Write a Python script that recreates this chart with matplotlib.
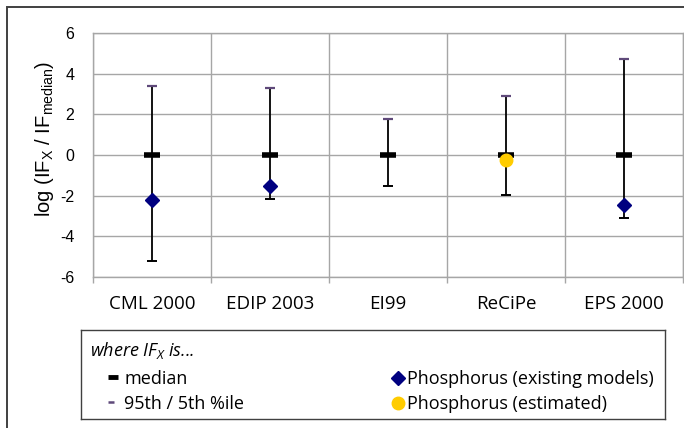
import numpy as np
import matplotlib
matplotlib.use("Agg")
import matplotlib.pyplot as plt
from matplotlib.patches import Rectangle

plt.rcParams['mathtext.default'] = 'regular'

# ---- data ----
methods = ["CML 2000", "EDIP 2003", "EI99", "ReCiPe", "EPS 2000"]
pct95 = [3.38, 3.28, 1.77, 2.88, 4.72]
pct5 = [-5.22, -2.18, -1.54, -1.98, -3.11]
median = [0, 0, 0, 0, 0]
phos_existing = [-2.23, -1.52, np.nan, np.nan, -2.44]
phos_estimated = [np.nan, np.nan, np.nan, -0.25, np.nan]
yticks = [-6, -4, -2, 0, 2, 4, 6]

W, H = 684, 428
fig = plt.figure(figsize=(W / 100, H / 100), dpi=100)

def fx(px):
    return px / W

def fy(py):
    return 1 - py / H

ax = fig.add_axes([fx(93), fy(277), fx(683) - fx(93), fy(33) - fy(277)])
x = np.arange(len(methods)) + 0.5
grid_c = '#a6a6a6'

ax.set_xlim(0, len(methods))
ax.set_ylim(-6, 6)
ax.set_yticks(yticks)
ax.set_yticklabels([str(v) for v in yticks], family='Liberation Sans', fontsize=11.5)
ax.set_xticks(x)
ax.set_xticklabels(methods, family='Open Sans', fontsize=13.5)
ax.set_xticks(np.arange(len(methods) + 1), minor=True)
ax.tick_params(axis='y', length=0, pad=13.5)
ax.tick_params(axis='x', which='major', length=0, pad=13)
ax.tick_params(axis='x', which='minor', length=4.5, width=1, color=grid_c, direction='out')
ax.yaxis.grid(True, color=grid_c, lw=1)
ax.xaxis.grid(True, which='minor', color=grid_c, lw=1)
ax.set_axisbelow(True)
for s in ax.spines.values():
    s.set_color(grid_c)
    s.set_linewidth(1)

# whiskers
ax.vlines(x, pct5, pct95, color='black', lw=1.3, zorder=3)
ax.plot(x, pct95, ls='none', marker='_', ms=7, mew=1.6, color='#5F497A', zorder=4)
ax.plot(x, pct5, ls='none', marker='_', ms=7, mew=1.4, color='black', zorder=4)
ax.plot(x, median, ls='none', marker='_', ms=12, mew=4, color='black', zorder=5)
ax.plot(x, phos_existing, ls='none', marker='D', ms=7.5, color='#000080', zorder=6)
ax.plot(x, phos_estimated, ls='none', marker='o', ms=9, color='#FFCC00', zorder=6)

fig.text(fx(45), fy(139), r"log (IF$_X$ / IF$_{median}$)", rotation=90,
         ha='center', va='center', family='Liberation Sans', fontsize=14.5)

# outer frame
fig.add_artist(Rectangle((fx(7), -0.1), 2, fy(7) + 0.1, transform=fig.transFigure,
                         fill=False, ec='#404040', lw=1.4))

# legend box
lx0, lx1, ly0, ly1 = 81, 665, 330, 419
lax = fig.add_axes([fx(lx0), fy(ly1), fx(lx1) - fx(lx0), fy(ly0) - fy(ly1)])
lax.set_xlim(lx0, lx1)
lax.set_ylim(ly1, ly0)
lax.set_xticks([])
lax.set_yticks([])
for s in lax.spines.values():
    s.set_color('#404040')
    s.set_linewidth(1)

lf = dict(family='Open Sans', fontsize=13)
lax.text(90, 356, r"where IF$_X$ is...", style='italic', va='baseline', **lf)
lax.plot([113], [377], ls='none', marker='_', ms=7.5, mew=3.5, color='black')
lax.text(124, 384, "median", va='baseline', **lf)
lax.plot([111], [402], ls='none', marker='_', ms=4.5, mew=1.8, color='#5F497A')
lax.text(124, 409, "95th / 5th %ile", va='baseline', **lf)
lax.plot([398], [378], ls='none', marker='D', ms=7, color='#000080')
lax.text(407, 384, "Phosphorus (existing models)", va='baseline', **lf)
lax.plot([398], [403], ls='none', marker='o', ms=9, color='#FFCC00')
lax.text(407, 409, "Phosphorus (estimated)", va='baseline', **lf)

fig.savefig("out.png", dpi=100)
